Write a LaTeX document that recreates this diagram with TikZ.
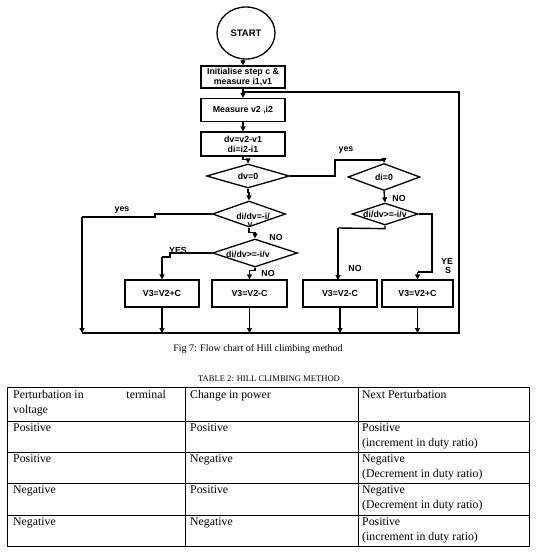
\documentclass[tikz,border=0pt]{standalone}
\usepackage{fontspec}
\setmainfont{Liberation Serif}
\newfontfamily\fcfont{Liberation Sans}
\usetikzlibrary{shapes.geometric,arrows.meta}
\begin{document}
\begin{tikzpicture}[x=1pt,y=1pt,
  fc/.style={font=\fcfont\bfseries\fontsize{8.8}{9.8}\selectfont},
  box/.style={fc, draw, line width=1.3pt, rectangle, inner sep=0pt, align=center},
  dia/.style={fc, draw, line width=1.3pt, diamond, inner sep=0pt, aspect=3},
  ln/.style={line width=1.4pt},
  arr/.style={ln, -{Triangle[length=5pt,width=5pt]}},
  lbl/.style={fc, inner sep=0pt},
  tt/.style={font=\fontsize{11.8}{13}\selectfont, inner sep=0pt},
  tl/.style={line width=0.8pt}]
\useasboundingbox (0,0) rectangle (549,-552);
% nodes
\node[fc, font=\fcfont\bfseries\fontsize{9.5}{10}\selectfont, draw, line width=1.3pt, ellipse, minimum width=58pt, minimum height=52pt, inner sep=0pt] (start) at (246,-33) {START};
\node[box, minimum width=84pt, minimum height=22pt] (init) at (243,-77) {Initialise step c \&\\measure i1,v1};
\node[box, minimum width=84pt, minimum height=23pt] (meas) at (243,-110) {Measure v2 ,i2};
\node[box, minimum width=84pt, minimum height=24pt] (dvb) at (243,-144) {dv=v2-v1\\di=i2-i1};
\node[dia, minimum width=83pt, minimum height=24pt] (d1) at (248,-176) {dv=0};
\node[dia, minimum width=73pt, minimum height=26pt] (d2) at (249,-214) {};
\node[lbl] (d2t) at (253,-216) {di/dv=-i/};
\node[lbl] (d2v) at (250,-225) {v};
\node[dia, minimum width=85pt, minimum height=28pt] (d3) at (255,-253) {};
\node[lbl] (d3t) at (248,-254) {di/dv>=-i/v};
\node[dia, minimum width=72pt, minimum height=27pt] (d4) at (384,-177) {di=0};
\node[dia, minimum width=66pt, minimum height=22pt] (d5) at (385,-214) {};
\node[lbl] (d5t) at (385,-214) {di/dv>=-i/v};
\node[box, minimum width=74pt, minimum height=27pt] (b1) at (162,-293.5) {V3=V2+C};
\node[box, minimum width=75pt, minimum height=27pt] (b2) at (249.5,-293.5) {V3=V2-C};
\node[box, minimum width=74pt, minimum height=27pt] (b3) at (340,-293.5) {V3=V2-C};
\node[box, minimum width=71pt, minimum height=27pt] (b4) at (417.5,-293.5) {V3=V2+C};
\coordinate (bl) at (82,-333);
\coordinate (br) at (459,-333);
\coordinate (loopin) at (243,-92);
% connectors
\draw[arr] (start.south -| init.north) -- (init.north);
\draw[arr] (init) -- (meas);
\draw[arr] (meas) -- (dvb);
\draw[arr] (dvb.south) -- ++(0,-3) -| (d1.north);
\draw[arr] (d1.south) -- ++(0,-4) -| (d2.north);
\draw[arr] (d2.south) -- ++(0,-5) -| (d3.north);
\draw[ln] (d2.west) -- (155,-214) -- (155,-217) -- (82,-217) coordinate (lv);
\draw[arr] (lv) -- (bl);
\draw[ln] (d3.west) -- (170,-253) -- (170,-257) -- (162,-257) coordinate (y1);
\draw[arr] (y1) -- (b1.north);
\draw[arr] (d3.south) -- ++(0,-3) -| (b2.north);
\draw[ln] (d1.east) -- (335,-176) -- (335,-160) -- (384,-160) coordinate (y2);
\draw[arr] (y2) -- (d4.north);
\draw[arr] (d4.south) -- (d5.north);
\draw[ln] (d5.east) -- (432,-214) -- (432,-272) -- (417.5,-272) coordinate (y3);
\draw[arr] (y3) -- (b4.north);
\draw[ln] (d5.south) -- ++(0,-3) -- (338,-228) coordinate (y4);
\draw[arr] (y4) -- (338,-280);
\foreach \b in {b1,b2,b3,b4} \draw[arr] (\b.south) -- (\b.south |- bl);
\draw[ln] (bl) -- (br) -- (459,-92) -- (loopin);
% labels
\node[lbl] at (122,-210) {yes};
\node[lbl] at (178,-250) {YES};
\node[lbl] at (276,-237) {NO};
\node[lbl] at (268,-273) {NO};
\node[lbl] at (346,-150) {yes};
\node[lbl] at (399,-198) {NO};
\node[lbl] at (355,-268) {NO};
\node[lbl] at (447,-261) {YE};
\node[lbl] at (448,-270) {S};
% caption
\node[font=\fontsize{10}{12}\selectfont, inner sep=0pt] (cap) at (258,-349) {Fig 7: Flow chart of Hill climbing method};
\node[font=\fontsize{8.6}{10}\selectfont, inner sep=0pt] (tit) at (269,-379) {TABLE 2: HILL CLIMBING METHOD};
% table
\draw[tl] (7,-387) rectangle (529,-546);
\foreach \y in {421,452,483,515} \draw[tl] (7,-\y) -- (529,-\y);
\draw[tl] (185,-387) -- (185,-546);
\draw[tl] (358,-387) -- (358,-546);
\node[tt, anchor=base west] at (13,-398) {Perturbation in};
\node[tt, anchor=base east] at (166,-398) {terminal};
\node[tt, anchor=base west] at (13,-413) {voltage};
\node[tt, anchor=base west] at (190,-398) {Change in power};
\node[tt, anchor=base west] at (362,-398) {Next Perturbation};
\node[tt, anchor=base west] at (13,-431) {Positive};
\node[tt, anchor=base west] at (190,-431) {Positive};
\node[tt, anchor=base west] at (362,-431) {Positive};
\node[tt, anchor=base west] at (362,-446) {(increment in duty ratio)};
\node[tt, anchor=base west] at (13,-462) {Positive};
\node[tt, anchor=base west] at (190,-462) {Negative};
\node[tt, anchor=base west] at (362,-462) {Negative};
\node[tt, anchor=base west] at (362,-477) {(Decrement in duty ratio)};
\node[tt, anchor=base west] at (13,-493) {Negative};
\node[tt, anchor=base west] at (190,-493) {Positive};
\node[tt, anchor=base west] at (362,-493) {Negative};
\node[tt, anchor=base west] at (362,-508) {(Decrement in duty ratio)};
\node[tt, anchor=base west] at (13,-525) {Negative};
\node[tt, anchor=base west] at (190,-525) {Negative};
\node[tt, anchor=base west] at (362,-525) {Positive};
\node[tt, anchor=base west] at (362,-540) {(increment in duty ratio)};
\end{tikzpicture}
\end{document}
